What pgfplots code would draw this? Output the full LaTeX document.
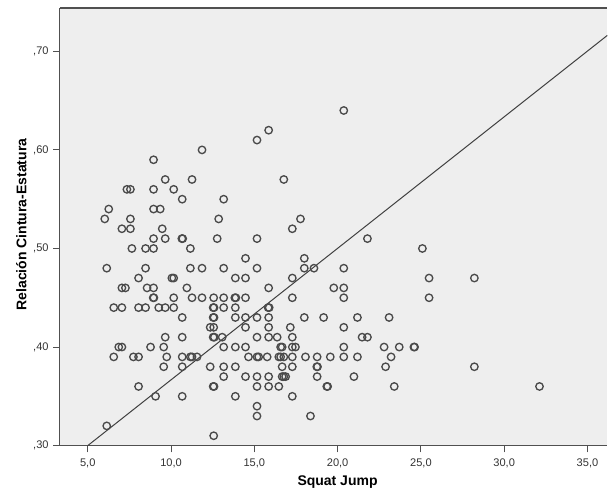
\documentclass[border=0pt]{standalone}
\usepackage{pgfplots}
\pgfplotsset{compat=1.18}
\usepackage{fontspec}
\setmainfont{Liberation Sans}
\definecolor{bgc}{HTML}{EEEEEE}
\definecolor{mk}{HTML}{4A4A4A}
\definecolor{ax}{HTML}{505050}
\begin{document}
\begin{tikzpicture}
\begin{axis}[
  at={(0pt,0pt)}, anchor=south west,
  scale only axis, width=411pt, height=328.5pt,
  xmin=3.33, xmax=36.2, ymin=0.30, ymax=0.744,
  axis background/.style={fill=bgc},
  axis line style={ax, line width=0.8pt},
  axis x line*=bottom, axis y line*=left,
  xtick={5,10,15,20,25,30,35},
  xticklabels={{5,0},{10,0},{15,0},{20,0},{25,0},{30,0},{35,0}},
  ytick={0.3,0.4,0.5,0.6,0.7},
  yticklabels={{,30},{,40},{,50},{,60},{,70}},
  tick style={ax, line width=0.8pt},
  major tick length=5pt,
  tick align=outside,
  xticklabel style={yshift=-1.5pt},
  ticklabel style={font=\fontsize{8.3}{9}\selectfont, text=black!80},
  xlabel={Squat Jump}, ylabel={Relación Cintura-Estatura},
  label style={font=\fontsize{10.5}{12}\selectfont\bfseries},
  xlabel style={at={(axis description cs:0.507,0)}, anchor=center, yshift=-27pt},
  ylabel style={at={(axis description cs:0,0.505)}, anchor=center, yshift=29pt},
  clip=true,
]
\draw[ax, line width=0.8pt] (rel axis cs:0,1) -- (rel axis cs:1,1);
\addplot[only marks, mark=o, mark size=2.8pt, mark options={draw=mk, line width=1pt}] table {
x y
20.37 0.64
15.86 0.62
15.16 0.61
11.86 0.60
8.95 0.59
9.65 0.57
11.26 0.57
16.77 0.57
7.35 0.56
7.56 0.56
8.95 0.56
10.16 0.56
10.67 0.55
13.16 0.55
6.26 0.54
8.95 0.54
9.35 0.54
6.02 0.53
7.56 0.53
12.86 0.53
17.77 0.53
7.05 0.52
7.56 0.52
9.47 0.52
17.28 0.52
8.95 0.51
9.65 0.51
10.65 0.51
10.70 0.51
12.77 0.51
15.16 0.51
21.79 0.51
7.65 0.50
8.47 0.50
8.95 0.50
11.16 0.50
25.09 0.50
14.47 0.49
18.00 0.49
6.14 0.48
8.47 0.48
11.16 0.48
11.86 0.48
13.16 0.48
15.16 0.48
18.00 0.48
18.58 0.48
20.37 0.48
8.05 0.47
10.05 0.47
10.16 0.47
13.86 0.47
14.47 0.47
17.28 0.47
25.49 0.47
28.21 0.47
7.05 0.46
7.26 0.46
8.56 0.46
8.95 0.46
10.95 0.46
15.86 0.46
19.77 0.46
20.37 0.46
8.93 0.45
8.97 0.45
10.16 0.45
11.26 0.45
11.86 0.45
12.56 0.45
13.16 0.45
13.83 0.45
13.89 0.45
14.47 0.45
17.28 0.45
20.37 0.45
25.49 0.45
6.56 0.44
7.05 0.44
8.05 0.44
8.47 0.44
9.26 0.44
9.65 0.44
10.16 0.44
12.53 0.44
12.58 0.44
13.16 0.44
13.86 0.44
15.83 0.44
15.89 0.44
10.67 0.43
12.53 0.43
12.58 0.43
13.86 0.43
14.47 0.43
15.16 0.43
15.86 0.43
18.00 0.43
19.16 0.43
21.19 0.43
23.09 0.43
12.35 0.42
12.56 0.42
14.47 0.42
15.86 0.42
17.16 0.42
20.37 0.42
9.65 0.41
10.67 0.41
12.53 0.41
12.60 0.41
13.07 0.41
15.16 0.41
15.86 0.41
16.37 0.41
17.28 0.41
21.47 0.41
21.79 0.41
6.86 0.40
7.05 0.40
8.77 0.40
9.56 0.40
13.16 0.40
13.86 0.40
14.47 0.40
16.58 0.40
16.67 0.40
17.28 0.40
17.47 0.40
20.37 0.40
22.79 0.40
23.70 0.40
24.58 0.40
24.62 0.40
6.56 0.39
7.74 0.39
8.05 0.39
9.74 0.39
10.67 0.39
11.16 0.39
11.26 0.39
11.56 0.39
14.65 0.39
15.16 0.39
15.26 0.39
15.77 0.39
16.47 0.39
16.58 0.39
16.77 0.39
17.28 0.39
18.07 0.39
18.77 0.39
19.56 0.39
20.37 0.39
21.19 0.39
23.21 0.39
9.56 0.38
10.67 0.38
12.35 0.38
13.16 0.38
13.86 0.38
16.67 0.38
17.28 0.38
18.75 0.38
18.79 0.38
22.88 0.38
28.21 0.38
13.16 0.37
14.47 0.37
15.16 0.37
15.86 0.37
16.67 0.37
16.77 0.37
16.88 0.37
18.77 0.37
20.98 0.37
8.05 0.36
12.53 0.36
12.58 0.36
15.16 0.36
15.86 0.36
16.47 0.36
19.35 0.36
19.40 0.36
23.40 0.36
32.12 0.36
9.07 0.35
10.67 0.35
13.86 0.35
17.28 0.35
15.16 0.34
15.16 0.33
18.37 0.33
6.14 0.32
12.56 0.31
};
\addplot[draw=black!75, line width=0.75pt] coordinates {(5,0.30) (36.2,0.7163)};
\end{axis}
\useasboundingbox (-45pt,-36.75pt) rectangle (411pt,334.5pt);
\end{tikzpicture}
\end{document}
